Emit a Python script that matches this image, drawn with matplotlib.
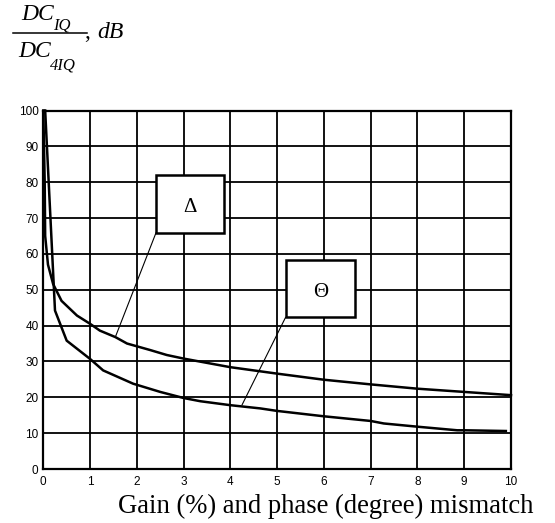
import matplotlib
matplotlib.use("Agg")
import matplotlib.pyplot as plt
from matplotlib.patches import Rectangle
from matplotlib.lines import Line2D

# Mismatch (gain % / phase degree) and DC suppression ratio, dB
delta_x = [0.0, 0.03, 0.04, 0.1, 0.21, 0.39, 0.72, 1.0, 1.21, 1.54, 1.79, 2.28,
           2.64, 3.0, 4.0, 5.0, 6.0, 7.0, 8.0, 9.0, 10.0]
delta_y = [100, 80, 65, 57, 51.6, 46.9, 42.8, 40.5, 38.6, 36.8, 35.0, 33.2,
           31.8, 30.8, 28.4, 26.6, 24.9, 23.6, 22.4, 21.5, 20.6]

theta_x = [0.04, 0.25, 0.5, 1.0, 1.28, 1.92, 2.5, 3.0, 3.36, 4.0, 4.64, 5.0,
           6.0, 7.0, 7.28, 8.0, 8.85, 9.0, 9.89]
theta_y = [100, 44.2, 35.8, 30.7, 27.5, 23.8, 21.5, 19.8, 18.9, 17.8, 16.9, 16.2,
           14.7, 13.4, 12.7, 11.8, 10.8, 10.8, 10.6]

x_ticks = list(range(0, 11))
y_ticks = list(range(0, 101, 10))

W, H = 555, 523
fig = plt.figure(figsize=(W / 100, H / 100), dpi=100)
ax = fig.add_axes([43.3 / W, 1 - 469 / H, (511 - 43.3) / W, (469 - 110.5) / H])

ax.plot(delta_x, delta_y, color="black", lw=1.8, zorder=4, clip_on=False)
ax.plot(theta_x, theta_y, color="black", lw=1.8, zorder=4, clip_on=False)

ax.set_xlim(0, 10)
ax.set_ylim(0, 100)
ax.set_xticks(x_ticks)
ax.set_yticks(y_ticks)
ax.tick_params(length=0, labelsize=8.5)
ax.tick_params(axis="x", pad=5)
ax.tick_params(axis="y", pad=3.5)
for lab in ax.get_xticklabels() + ax.get_yticklabels():
    lab.set_family("Liberation Sans")
ax.grid(True, color="black", lw=1.3)
ax.set_axisbelow(True)
for sp in ax.spines.values():
    sp.set_linewidth(1.6)


# Labelled callout boxes with leader lines
def callout(x0, x1, y0, y1, label, px, py):
    ax.add_patch(Rectangle((x0, y0), x1 - x0, y1 - y0, facecolor="white",
                           edgecolor="black", lw=1.8, zorder=5))
    ax.text((x0 + x1) / 2, (y0 + y1) / 2 - 1, label, ha="center", va="center",
            fontsize=15, family="Liberation Serif", zorder=6)
    ax.plot([x0, px], [y0, py], color="black", lw=0.8, zorder=4)


callout(2.41, 3.87, 65.9, 82.1, "Δ", 1.54, 36.8)
callout(5.18, 6.67, 42.3, 58.3, "Θ", 4.25, 17.9)

# Horizontal axis title
fig.text(533 / W, 1 - 513 / H, "Gain (%) and phase (degree) mismatch",
         ha="right", va="baseline", fontsize=19.2, family="Liberation Serif")


# Vertical axis title: DC_IQ / DC_4IQ, dB
def ftext(px, py, s, size):
    fig.text(px / W, 1 - py / H, s, ha="left", va="baseline", fontsize=size,
             family="Liberation Serif", style="italic")


ftext(21.0, 19.5, "DC", 17)
ftext(53.5, 29.5, "IQ", 12)
fig.add_artist(Line2D([13.3 / W, 87 / W], [1 - 33.3 / H, 1 - 33.3 / H],
                      color="black", lw=1.1, transform=fig.transFigure))
ftext(18.0, 57.0, "DC", 17)
ftext(50.0, 69.5, "4IQ", 12)
fig.text(84 / W, 1 - 37.5 / H, ",", ha="left", va="baseline", fontsize=17,
         family="Liberation Serif")
ftext(97.0, 37.5, "dB", 17)

fig.savefig("out.png", dpi=100)
